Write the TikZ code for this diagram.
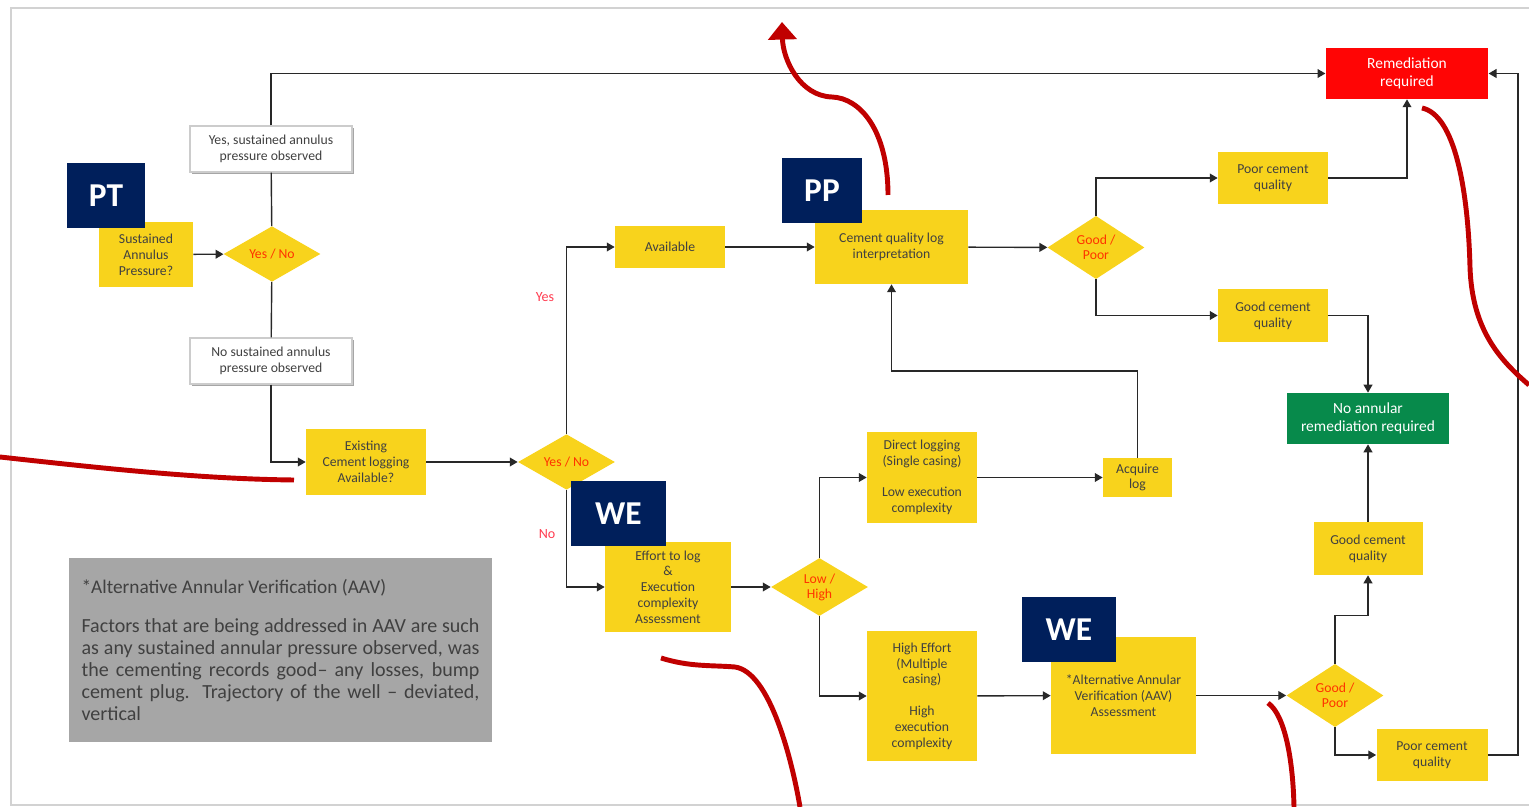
\documentclass[tikz,border=0pt]{standalone}
\usepackage{fontspec}
\setmainfont{Carlito}
\usepackage{tikz}
\usetikzlibrary{shapes.geometric,arrows.meta,shadows}

\definecolor{boxyellow}{RGB}{248,211,28}
\definecolor{boxtext}{RGB}{64,64,64}
\definecolor{dectext}{RGB}{255,51,0}
\definecolor{branchred}{RGB}{255,60,80}
\definecolor{tagnavy}{RGB}{0,31,91}
\definecolor{remedred}{RGB}{255,5,5}
\definecolor{okgreen}{RGB}{7,138,75}
\definecolor{linegray}{RGB}{40,40,40}
\definecolor{notegray}{RGB}{166,166,166}
\definecolor{calloutred}{RGB}{192,0,0}

\tikzset{
  flowbox/.style={rectangle, fill=boxyellow, text=boxtext, align=center, inner sep=1pt,
    font=\fontsize{7.8}{9}\selectfont},
  decision/.style={diamond, fill=boxyellow, text=dectext, align=center, inner sep=0pt,
    minimum width=1.94cm, minimum height=0.98cm, font=\fontsize{7.8}{8.5}\selectfont},
  obsbox/.style={rectangle, fill=white, draw=gray!40, line width=0.6pt, text=boxtext, align=center,
    minimum width=3.24cm, minimum height=0.92cm, font=\fontsize{7.8}{9}\selectfont,
    drop shadow={shadow xshift=1.2pt, shadow yshift=-1.2pt, fill=gray!70, opacity=1}},
  endbox/.style={rectangle, text=white, align=center, minimum width=3.25cm, minimum height=1.02cm,
    font=\fontsize{8.8}{10.5}\selectfont},
  tag/.style={rectangle, fill=tagnavy, text=white, minimum height=1.30cm,
    font=\fontsize{19}{20}\selectfont\bfseries},
  branch/.style={text=branchred, font=\fontsize{8}{9}\selectfont},
  flow/.style={-{Triangle[length=4.5pt,width=5pt]}, line width=0.8pt, draw=linegray},
  plain/.style={line width=0.8pt, draw=linegray},
  callout/.style={draw=calloutred, line width=2.8pt}
}

\begin{document}
\begin{tikzpicture}[x=0.02cm,y=-0.02cm]
    \useasboundingbox (0,0) rectangle (1529,807);
    \draw[gray!35, line width=0.8pt] (1529,8) -- (11,8) -- (11,805) -- (1529,805);

    \node[flowbox, minimum width=1.88cm, minimum height=1.30cm] (sust) at (146,254.5) {Sustained\\Annulus\\Pressure?};
    \node[decision] (yn1) at (272,254) {Yes / No};
    \node[obsbox] (yesobs) at (271,149) {Yes, sustained annulus\\pressure observed};
    \node[obsbox] (noobs) at (271,361) {No sustained annulus\\pressure observed};
    \node[flowbox, minimum width=2.40cm, minimum height=1.32cm] (exist) at (366,462) {Existing\\Cement logging\\Available?};
    \node[decision] (yn2) at (566.5,462) {Yes / No};
    \node[flowbox, minimum width=2.20cm, minimum height=0.84cm] (avail) at (670,247) {Available};
    \node[flowbox, minimum width=3.06cm, minimum height=1.48cm] (cql) at (891.5,247) {Cement quality log\\interpretation};
    \node[decision] (gp1) at (1096,247.5) {Good /\\Poor};
    \node[flowbox, minimum width=2.20cm, minimum height=1.04cm] (poor1) at (1273,178) {Poor cement\\quality};
    \node[flowbox, minimum width=2.20cm, minimum height=1.06cm] (good1) at (1273,315.5) {Good cement\\quality};
    \node[endbox, fill=remedred] (remed) at (1407,73.5) {Remediation\\required};
    \node[endbox, fill=okgreen] (noann) at (1368,418.5) {No annular\\remediation required};
    \node[flowbox, minimum width=2.52cm, minimum height=1.80cm] (effort) at (668,587) {Effort to log\\\&\\Execution\\complexity\\Assessment};
    \node[decision] (lh) at (819.5,587) {Low /\\High};
    \node[flowbox, minimum width=2.20cm, minimum height=1.82cm] (direct) at (922,477.5) {Direct logging\\(Single casing)\\[9pt]Low execution\\complexity};
    \node[flowbox, minimum width=1.38cm, minimum height=0.78cm] (acq) at (1137.5,477.5) {Acquire\\log};
    \node[flowbox, minimum width=2.20cm, minimum height=2.60cm] (high) at (922,696) {High Effort\\(Multiple\\casing)\\[9pt]High\\execution\\complexity};
    \node[flowbox, minimum width=2.90cm, minimum height=2.34cm] (aav) at (1123.5,695.5) {*Alternative Annular\\Verification (AAV)\\Assessment};
    \node[decision] (gp2) at (1335,695.5) {Good /\\Poor};
    \node[flowbox, minimum width=2.18cm, minimum height=1.06cm] (good2) at (1368,548.5) {Good cement\\quality};
    \node[flowbox, minimum width=2.22cm, minimum height=1.04cm] (poor2) at (1432,755) {Poor cement\\quality};
    \node[branch] (yeslbl) at (545,297) {Yes};
    \node[branch] (nolbl) at (547,534) {No};

    \node[rectangle, fill=notegray, text=boxtext, minimum width=8.46cm, minimum height=3.68cm,
      text width=7.96cm, align=justify, font=\fontsize{11.4}{12.5}\selectfont] (note) at (280.5,650)
      {\tolerance=9999\emergencystretch=2em\hyphenpenalty=10000
       {\fontsize{11}{12.5}\selectfont *Alternative Annular Verification (AAV)}\par\vspace{10pt}
       Factors that are being addressed in AAV are such as any sustained annular pressure observed, was the cementing records good– any losses, bump cement plug. Trajectory of the well – deviated, vertical};

    \draw[flow] (sust) -- (yn1);
    \draw[plain] (yn1) -- (yesobs);
    \draw[flow] (yesobs.north) |- (remed.west);
    \draw[plain] (yn1) -- (noobs);
    \draw[flow] (noobs.south) |- (exist.west);
    \draw[flow] (exist) -- (yn2);
    \draw[flow] (yn2.north) |- (avail.west);
    \draw[flow] (avail) -- (cql);
    \draw[flow] (cql) -- (gp1);
    \draw[flow] (gp1.north) |- (poor1.west);
    \draw[flow] (gp1.south) |- (good1.west);
    \draw[flow] (poor1.east) -| (remed.south);
    \draw[flow] (good1.east) -| (noann.north);
    \draw[flow] (yn2.south) |- (effort.west);
    \draw[flow] (effort) -- (lh);
    \draw[flow] (lh.north) |- (direct.west);
    \draw[flow] (lh.south) |- (high.west);
    \draw[flow] (direct) -- (acq);
    \draw[flow] (acq.north) -- ++(0,-86.5) -| (cql.south);
    \draw[flow] (high) -- (aav);
    \draw[flow] (aav) -- (gp2);
    \draw[flow] (gp2.north) -- ++(0,-48) -| (good2.south);
    \draw[flow] (good2) -- (noann);
    \draw[flow] (gp2.south) |- (poor2.west);
    \draw[flow] (poor2.east) -- ++(30,0) |- (remed.east);

    \node[tag, minimum width=1.56cm] (pt) at (106,195.5) {PT};
    \node[tag, minimum width=1.60cm] (pp) at (822,190.5) {PP};
    \node[tag, minimum width=1.90cm] (we1) at (618.5,513.5) {WE};
    \node[tag, minimum width=1.88cm] (we2) at (1069,629.5) {WE};

    \draw[callout] (0,457) .. controls (100,468) and (200,479) .. (294,480);
    \draw[callout, -{Triangle[length=10pt,width=16pt]}] (888,195) .. controls (888,130) and (860,98) .. (832,97) .. controls (800,96) and (783,60) .. (782,22);
    \draw[callout] (1422,108) .. controls (1455,115) and (1468,190) .. (1470,267) .. controls (1472,330) and (1500,360) .. (1529,385);
    \draw[callout] (661,658) .. controls (690,667) and (710,665) .. (735,667) .. controls (770,672) and (792,760) .. (800,807);
    \draw[callout] (1268,703) .. controls (1285,715) and (1293,760) .. (1294,807);
\end{tikzpicture}
\end{document}
